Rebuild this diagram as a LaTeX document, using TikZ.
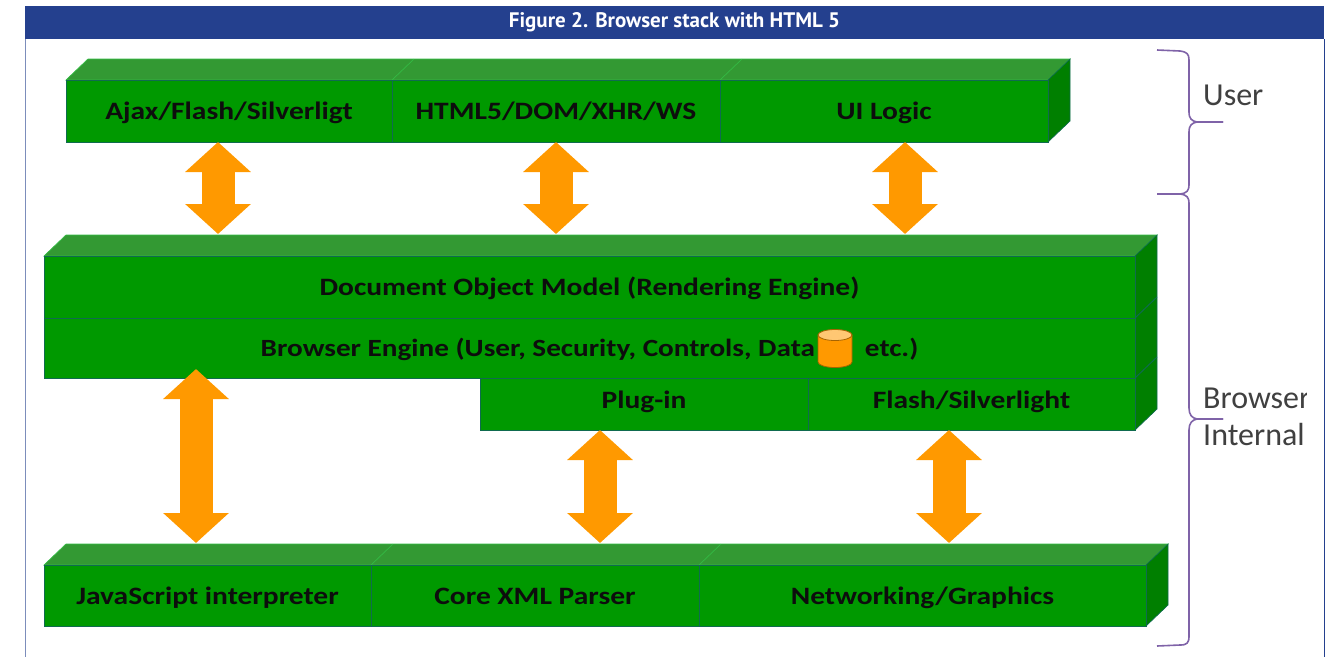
\documentclass[tikz,border=0pt]{standalone}
\usepackage{fontspec}
\setmainfont{Carlito}
\newfontfamily\labelfont[FakeStretch=1.18]{Carlito}
\newfontfamily\headfont{PT Sans}
\usetikzlibrary{arrows.meta}
\definecolor{frontgreen}{HTML}{009900}
\definecolor{topgreen}{HTML}{339933}
\definecolor{sidegreen}{HTML}{007F00}
\definecolor{edgegreen}{HTML}{0F6B4F}
\definecolor{lightedge}{HTML}{33BB44}
\definecolor{headblue}{HTML}{24408E}
\definecolor{arroworange}{HTML}{FF9900}
\definecolor{bracepurple}{HTML}{7F63A8}
\tikzset{
	box/.style={draw=edgegreen, line width=0.7pt, fill=frontgreen, inner sep=0pt, outer sep=0pt, anchor=north west, text=black!95, text height=17pt, text depth=0pt, font=\fontsize{25}{27}\selectfont\labelfont\bfseries},
	lowbox/.style={box, text height=8pt},
	topface/.style={fill=topgreen, draw=lightedge, line width=0.7pt},
	sideface/.style={fill=sidegreen, draw=edgegreen, line width=0.7pt},
	updown/.style={draw=arroworange, line width=33pt, {Triangle[length=30pt,width=64pt]}-{Triangle[length=30pt,width=64pt]}},
	bracket/.style={draw=bracepurple, line width=1.6pt},
	sidelabel/.style={anchor=base west, inner sep=0pt, text=black!75, font=\fontsize{32}{34}\selectfont}
}
\begin{document}
\begin{tikzpicture}[x=1pt,y=-1pt]
	\useasboundingbox (0,0) rectangle (1333,657);
	%Frame and title bar
	\coordinate (frameLeft) at (25,657);
	\coordinate (frameRight) at (1324,657);
	\node [fill=headblue, inner sep=0pt, outer sep=0pt, anchor=north west, minimum width=1299pt, minimum height=33pt, text=white, font=\fontsize{21}{23}\selectfont\headfont\bfseries] (title) at (25,6) {Figure 2. Browser stack with HTML 5};
	\draw [headblue!60, line width=1pt] (title.south west) -- (frameLeft);
	\draw [headblue, line width=1pt] (title.south east) -- (frameRight);
	%Top row
	\draw [topface] (66,80) -- ++(22,-21) -- (1070,59) -- (1048,80) -- cycle;
	\draw [sideface] (1048,80) -- (1070,59) -- (1070,121) -- (1048,142) -- cycle;
	\draw [lightedge, line width=0.7pt] (392,80) -- ++(22,-21);
	\draw [lightedge, line width=0.7pt] (720,80) -- ++(22,-21);
	\node [box, minimum width=326pt, minimum height=62pt] (ajax) at (66,80) {Ajax/Flash/Silverligt};
	\node [box, minimum width=328pt, minimum height=62pt] (html) at (392,80) {HTML5/DOM/XHR/WS};
	\node [box, minimum width=328pt, minimum height=62pt] (logic) at (720,80) {UI Logic};
	%Middle block
	\draw [topface] (44,256) -- ++(22,-21) -- (1157,235) -- (1135,256) -- cycle;
	\draw [sideface] (1135,256) -- (1157,235) -- (1157,409) -- (1135,430) -- cycle;
	\draw [edgegreen, line width=1pt] (1135,318) -- ++(22,-21);
	\draw [edgegreen, line width=1pt] (1135,378) -- ++(22,-21);
	\node [box, minimum width=1091pt, minimum height=62pt] (dom) at (44,256) {Document Object Model (Rendering Engine)};
	\node [box, minimum width=1091pt, minimum height=60pt, font=\fontsize{24.75}{27}\selectfont\labelfont\bfseries] (engine) at (44,318) {Browser Engine (User, Security, Controls, Data\hspace{50pt}etc.)};
	\node [lowbox, minimum width=328pt, minimum height=52pt] (plugin) at (480,378) {Plug-in};
	\node [lowbox, minimum width=327pt, minimum height=52pt] (flash) at (808,378) {Flash/Silverlight};
	%The small data store
	\draw [draw=black!35!arroworange, line width=0.8pt, fill=arroworange] (818,335) -- (818,362) arc [x radius=17, y radius=-5.5, start angle=180, end angle=360] -- (852,335) -- cycle;
	\draw [draw=black!35!arroworange, line width=0.8pt, fill=arroworange!55] (835,335) ellipse [x radius=17, y radius=5.5];
	%Bottom row
	\draw [topface] (44,565) -- ++(22,-21) -- (1168,544) -- (1146,565) -- cycle;
	\draw [sideface] (1146,565) -- (1168,544) -- (1168,605) -- (1146,626) -- cycle;
	\draw [lightedge, line width=0.7pt] (371,565) -- ++(22,-21);
	\draw [lightedge, line width=0.7pt] (699,565) -- ++(22,-21);
	\node [box, minimum width=327pt, minimum height=61pt] (script) at (44,565) {JavaScript interpreter};
	\node [box, minimum width=328pt, minimum height=61pt] (parser) at (371,565) {Core XML Parser};
	\node [box, minimum width=447pt, minimum height=61pt] (network) at (699,565) {Networking/Graphics};
	%Arrows between the layers
	\coordinate (domTop) at (589,234);
	\coordinate (scriptTop) at (589,543);
	\coordinate (armA) at (218,0);
	\coordinate (armB) at (556,0);
	\coordinate (armC) at (905,0);
	\coordinate (armD) at (196,0);
	\coordinate (armE) at (600,0);
	\coordinate (armF) at (949,0);
	\draw [updown] (ajax.south -| armA) -- (domTop -| armA);
	\draw [updown] (html.south -| armB) -- (domTop -| armB);
	\draw [updown] (logic.south -| armC) -- (domTop -| armC);
	\draw [updown] ([yshift=9pt]engine.south -| armD) -- (scriptTop -| armD);
	\draw [updown] (plugin.south -| armE) -- (scriptTop -| armE);
	\draw [updown] (flash.south -| armF) -- (scriptTop -| armF);
	%Braces at the right
	\coordinate (userStart) at (1157,50);
	\coordinate (userTip) at (1223,122);
	\coordinate (userEnd) at (1157,194);
	\coordinate (innerTip) at (1223,419);
	\coordinate (innerEnd) at (1157,646);
	\draw [bracket] (userStart) -- (1180,51) .. controls (1187,52) and (1189,54) .. (1189,60) -- (1189,112) .. controls (1189,119) and (1192,121) .. (1197,122) -- (userTip);
	\draw [bracket] (userTip) -- (1197,122) .. controls (1192,123) and (1189,125) .. (1189,132) -- (1189,184) .. controls (1189,191) and (1187,193) .. (1180,194) -- (userEnd);
	\draw [bracket] (userEnd) -- (1180,194) .. controls (1187,195) and (1189,197) .. (1189,204) -- (1189,408) .. controls (1189,415) and (1192,418) .. (1197,419) -- (innerTip);
	\draw [bracket] (innerTip) -- (1197,419) .. controls (1192,420) and (1189,423) .. (1189,430) -- (1189,636) .. controls (1189,643) and (1187,645) .. (1180,645) -- (innerEnd);
	%Labels of the braces
	\node [sidelabel] (userLabel) at (1203,105) {User};
	\begin{scope}
		\clip (1195,380) rectangle (1306,418);
		\node [sidelabel] (browserLabel) at (1203,408) {Browser};
	\end{scope}
	\node [sidelabel] (internalLabel) at (1203,445) {Internal};
\end{tikzpicture}
\end{document}
